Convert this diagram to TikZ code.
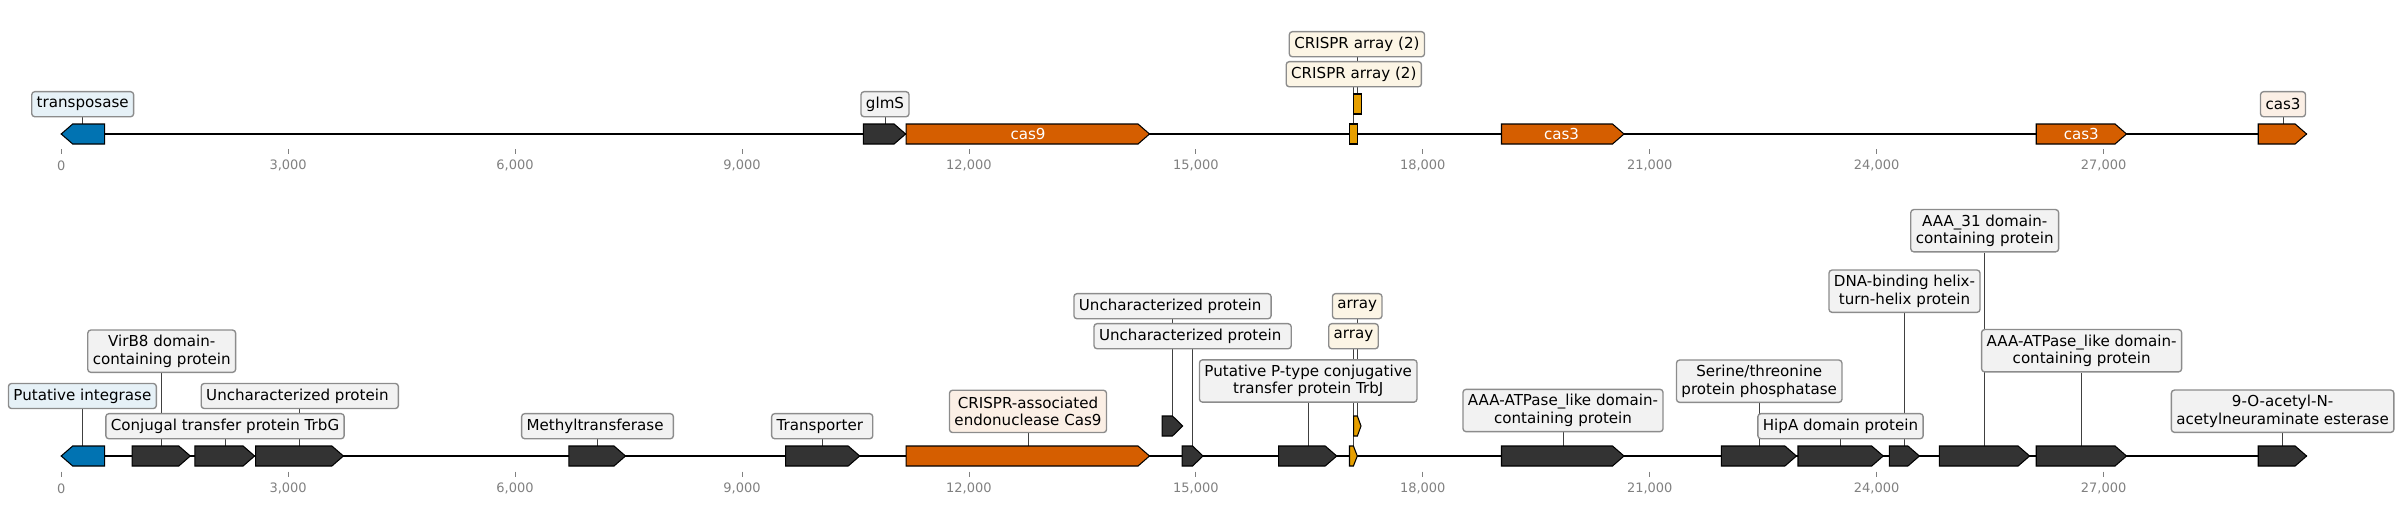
\documentclass[tikz,border=0pt]{standalone}
\usepackage{fontspec}
\setmainfont{DejaVu Sans}
\usepackage{tikz}
\usetikzlibrary{backgrounds}

\definecolor{genedark}{HTML}{333333}
\definecolor{geneblue}{HTML}{0173B2}
\definecolor{genecas}{HTML}{D55E00}
\definecolor{genearray}{HTML}{E69F00}
\definecolor{boxgray}{HTML}{F2F2F2}
\definecolor{boxline}{HTML}{8C8C8C}
\definecolor{tickgray}{HTML}{808080}

% gene arrows: name, start, end, y, colour
\newcommand{\genefwd}[5]{%
  \pgfmathsetmacro{\hd}{min(11.5,0.5*(#3-#2))}%
  \draw[gene, fill=#5] (#2,#4-10) -- ({#3-\hd},#4-10) -- (#3,#4) -- ({#3-\hd},#4+10) -- (#2,#4+10) -- cycle;
  \coordinate (#1) at ({(#2+#3)/2},#4-10);}
\newcommand{\generev}[5]{%
  \pgfmathsetmacro{\hd}{min(11.5,0.5*(#3-#2))}%
  \draw[gene, fill=#5] (#2,#4) -- ({#2+\hd},#4-10) -- (#3,#4-10) -- (#3,#4+10) -- ({#2+\hd},#4+10) -- cycle;
  \coordinate (#1) at ({(#2+#3)/2},#4-10);}

\begin{document}
\begin{tikzpicture}[x=0.6623pt, y=-0.6623pt,
    gene/.style={draw=black, line width=0.7pt, line join=miter},
    lbl/.style={draw=boxline, fill=boxgray, rounded corners=2pt, line width=0.9pt, inner xsep=3.3pt, inner ysep=0pt, minimum height=16.6pt, font=\fontsize{10}{11.5}\selectfont, align=center},
    lbl2/.style={lbl, minimum height=28pt},
    leader/.style={draw=black!75, line width=0.5pt},
    backbone/.style={line width=1.3pt},
    tck/.style={draw=tickgray, line width=0.5pt},
    tcklbl/.style={text=tickgray, font=\fontsize{8.6}{10}\selectfont, inner sep=0pt},
    genetxt/.style={text=white, font=\fontsize{10}{12}\selectfont, inner sep=0pt}]
    \useasboundingbox (0,0) rectangle (2401,505);

    % top track
    \draw[backbone] (61.2,134) -- (2306.6,134);
    \generev{t0}{61.2}{104.6}{134}{geneblue}
    \genefwd{t1}{863.3}{905.6}{134}{genedark}
    \genefwd{t2}{906.1}{1149.5}{134}{genecas}
    \draw[gene, fill=genearray] (1349.5,124) rectangle (1357.7,144);
    \coordinate (t3) at (1353.6,124);
    \draw[gene, fill=genearray] (1353.6,94) rectangle (1361.2,114);
    \coordinate (t4) at (1357.4,94);
    \genefwd{t5}{1501.5}{1624}{134}{genecas}
    \genefwd{t6}{2036.2}{2126.5}{134}{genecas}
    \genefwd{t7}{2258.2}{2306.6}{134}{genecas}
    \node[genetxt] (n2) at (1028,134) {cas9};
    \node[genetxt] (n5) at (1561.5,134) {cas3};
    \node[genetxt] (n6) at (2081.3,134) {cas3};

    \node[lbl, fill=geneblue!10] (lt0) at (82.7,104.2) {transposase};
    \node[lbl] (lt1) at (885,104.2) {glmS};
    \node[lbl, fill=genearray!10] (lt3) at (1353.8,74.2) {CRISPR array (2)};
    \node[lbl, fill=genearray!10] (lt4) at (1356.9,44.2) {CRISPR array (2)};
    \node[lbl, fill=genecas!10] (lt7) at (2283,104.2) {cas3};

    \foreach \k/\txt in {0/0, 1/{3,000}, 2/{6,000}, 3/{9,000}, 4/{12,000}, 5/{15,000}, 6/{18,000}, 7/{21,000}, 8/{24,000}, 9/{27,000}} {
        \draw[tck] (61.2+226.93*\k,149.3) -- ++(0,5);
        \node[tcklbl] (tt\k) at (61.2+226.93*\k,165.7) {\txt};
        \draw[tck] (61.2+226.93*\k,471.7) -- ++(0,5);
        \node[tcklbl] (bt\k) at (61.2+226.93*\k,488.3) {\txt};
    }

    % bottom track
    \draw[backbone] (61.2,456) -- (2306.6,456);
    \generev{b0}{61.2}{104.6}{456}{geneblue}
    \genefwd{b1}{132.1}{190.3}{456}{genedark}
    \genefwd{b2}{194.9}{254.6}{456}{genedark}
    \genefwd{b3}{255.6}{343.4}{456}{genedark}
    \genefwd{b4}{568.9}{625.5}{456}{genedark}
    \genefwd{b5}{785.7}{859.7}{456}{genedark}
    \genefwd{b6}{906.1}{1149.5}{456}{genecas}
    \genefwd{b7}{1162.2}{1182.7}{426}{genedark}
    \genefwd{b8}{1182.1}{1203}{456}{genedark}
    \genefwd{b9}{1278.6}{1336.7}{456}{genedark}
    \genefwd{b10}{1349.5}{1357.3}{456}{genearray}
    \genefwd{b11}{1353.7}{1361}{426}{genearray}
    \genefwd{b12}{1501.5}{1624}{456}{genedark}
    \genefwd{b13}{1721.4}{1796.4}{456}{genedark}
    \genefwd{b14}{1798}{1883.2}{456}{genedark}
    \genefwd{b15}{1889.3}{1919.4}{456}{genedark}
    \genefwd{b16}{1939.3}{2029.6}{456}{genedark}
    \genefwd{b17}{2036.2}{2126.5}{456}{genedark}
    \genefwd{b18}{2258.2}{2306.6}{456}{genedark}

    \node[lbl, fill=geneblue!10] (lb0) at (82.4,396) {Putative integrase};
    \node[lbl2] (lb1) at (161.7,351.2) {VirB8 domain-\\containing protein};
    \node[lbl] (lb2) at (225,426.2) {Conjugal transfer protein TrbG};
    \node[lbl] (lb3) at (299.8,396) {Uncharacterized protein~};
    \node[lbl] (lb4) at (597.5,426.2) {Methyltransferase~};
    \node[lbl] (lb5) at (822.2,426.2) {Transporter~};
    \node[lbl2, fill=genecas!10] (lb6) at (1028,411.4) {CRISPR-associated\\endonuclease Cas9};
    \node[lbl] (lb7) at (1172.5,306.2) {Uncharacterized protein~};
    \node[lbl] (lb8) at (1192.6,336.2) {Uncharacterized protein~};
    \node[lbl2] (lb9) at (1308.2,381) {Putative P-type conjugative\\transfer protein TrbJ};
    \node[lbl, fill=genearray!10] (lb10) at (1353.5,336.2) {array};
    \node[lbl, fill=genearray!10] (lb11) at (1357.2,306.2) {array};
    \node[lbl2] (lb12) at (1563,410.5) {AAA-ATPase\_like domain-\\containing protein};
    \node[lbl2] (lb13) at (1759.2,381.2) {Serine/threonine\\protein phosphatase};
    \node[lbl] (lb14) at (1840.5,426.2) {HipA domain protein};
    \node[lbl2] (lb15) at (1904.5,291.2) {DNA-binding helix-\\turn-helix protein};
    \node[lbl2] (lb16) at (1984.7,230.7) {AAA\_31 domain-\\containing protein};
    \node[lbl2] (lb17) at (2081.6,350.7) {AAA-ATPase\_like domain-\\containing protein};
    \node[lbl2] (lb18) at (2282.6,411.2) {9-O-acetyl-N-\\acetylneuraminate esterase};

    % leader lines behind the boxes
    \begin{scope}[on background layer]
        \foreach \g in {0,1,3,4,7}
            \draw[leader] (lt\g.south) -- (lt\g.south |- t\g);
        \foreach \g in {0,...,18}
            \draw[leader] (lb\g.south) -- (lb\g.south |- b\g);
    \end{scope}
\end{tikzpicture}
\end{document}
